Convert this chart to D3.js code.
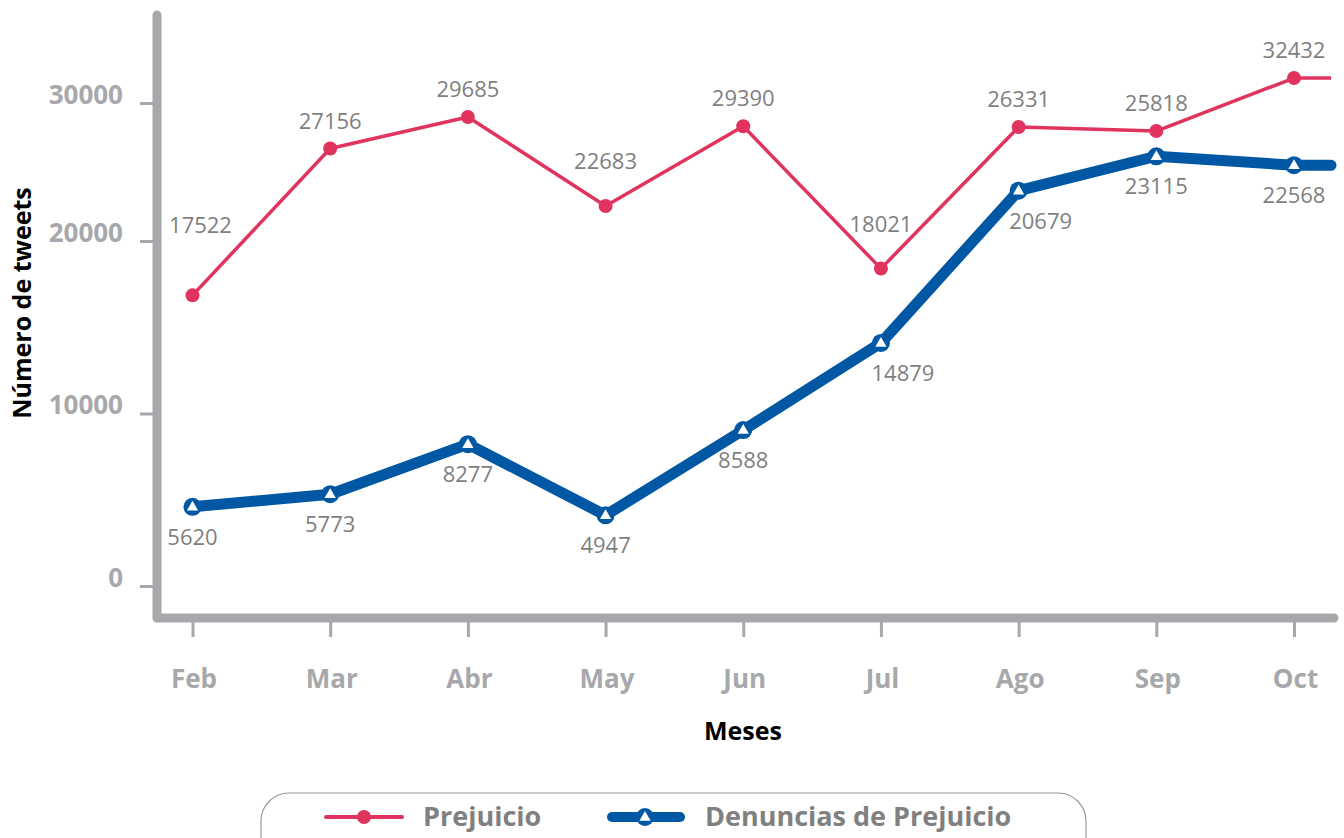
<!DOCTYPE html>
<html>
<head>
<meta charset="utf-8">
<script src="https://cdn.jsdelivr.net/npm/d3@7"></script>
<style>
    html, body { margin: 0; padding: 0; background: #fff; }
    #chart { width: 1344px; height: 838px; }
    text { font-family: 'Open Sans', 'Noto Sans', sans-serif; }
</style>
</head>
<body>
<div id="chart"></div>
<script>
// Data
const months = ['Feb', 'Mar', 'Abr', 'May', 'Jun', 'Jul', 'Ago', 'Sep', 'Oct'];
// values as plotted in the picture
const prejuicio = [16850, 26700, 28990, 22540, 28310, 18400, 28260, 27970, 31810];
const denuncias = [4590, 5320, 8220, 4100, 9040, 14090, 23650, 26140, 25490];
// numbers printed next to the points
const prejuicioLabels = ['17522', '27156', '29685', '22683', '29390', '18021', '26331', '25818', '32432'];
const denunciasLabels = ['5620', '5773', '8277', '4947', '8588', '14879', '20679', '23115', '22568'];
const yTicks = [0, 10000, 20000, 30000];
const seriesNames = ['Prejuicio', 'Denuncias de Prejuicio'];

document.addEventListener('DOMContentLoaded', function() {
    const width = 1344;
    const height = 838;
    const red = '#e0345e';
    const blue = '#0058a4';
    const axisGray = '#a7a8ab';
    const labelGray = '#7f7f7f';

    const axisX = 157;      // vertical axis line
    const axisY = 618;      // horizontal axis line
    const axisTop = 15;
    const axisRight = 1334;

    const svg = d3.select('#chart')
        .append('svg')
        .attr('width', width)
        .attr('height', height);

    svg.append('rect')
        .attr('width', width)
        .attr('height', height)
        .attr('fill', '#fff');

    // Scales (the picture's y ticks are not evenly spaced, so the scale is piecewise)
    const x = d3.scalePoint()
        .domain(months)
        .range([192.5, 1294]);

    const y0 = 586, step = 172.5, topStep = 138;
    const y = d3.scaleLinear()
        .domain(yTicks)
        .range([y0, y0 - step, y0 - 2 * step, y0 - 2 * step - topStep]);

    // Y axis ticks + labels
    const yAxis = svg.append('g')
        .attr('class', 'axis y-axis')
        .attr('transform', `translate(${axisX}, 0)`)
        .call(d3.axisLeft(y)
            .tickValues(yTicks)
            .tickSize(17)
            .tickPadding(17)
            .tickFormat(d => d));
    yAxis.select('.domain').remove();
    yAxis.selectAll('line')
        .attr('stroke', axisGray)
        .attr('stroke-width', 3);
    yAxis.selectAll('text')
        .attr('dy', '0')
        .style('font-size', '26px')
        .style('font-weight', '700')
        .style('fill', axisGray);

    // X axis ticks + labels
    const xAxis = svg.append('g')
        .attr('class', 'axis x-axis')
        .attr('transform', `translate(0, ${axisY})`)
        .call(d3.axisBottom(x).tickSize(19));
    xAxis.select('.domain').remove();
    xAxis.selectAll('line')
        .attr('stroke', axisGray)
        .attr('stroke-width', 3);
    xAxis.selectAll('text')
        .attr('y', 70)
        .attr('dy', 0)
        .attr('dx', 1)
        .style('font-size', '26px')
        .style('font-weight', '700')
        .style('fill', axisGray);

    // Thick L-shaped axis frame
    svg.append('path')
        .attr('d', `M${axisX},${axisTop}V${axisY}H${axisRight}`)
        .attr('fill', 'none')
        .attr('stroke', axisGray)
        .attr('stroke-width', 9)
        .attr('stroke-linecap', 'round')
        .attr('stroke-linejoin', 'round');

    // Axis titles
    svg.append('text')
        .attr('transform', 'translate(31, 303) rotate(-90)')
        .attr('text-anchor', 'middle')
        .style('font-size', '25px')
        .style('font-weight', '700')
        .style('fill', '#000')
        .text('Número de tweets');

    svg.append('text')
        .attr('x', 743)
        .attr('y', 740)
        .attr('text-anchor', 'middle')
        .style('font-size', '25px')
        .style('font-weight', '700')
        .style('fill', '#000')
        .text('Meses');

    // Lines run on flat to the end of the x axis after the last month
    function linePoints(values) {
        const pts = values.map((v, i) => [x(months[i]), y(v)]);
        pts.push([axisRight - 3, y(values[values.length - 1])]);
        return pts;
    }
    const line = d3.line();

    svg.append('path')
        .attr('d', line(linePoints(denuncias)))
        .attr('fill', 'none')
        .attr('stroke', blue)
        .attr('stroke-width', 11)
        .attr('stroke-linejoin', 'round')
        .attr('stroke-linecap', 'round');

    svg.append('path')
        .attr('d', line(linePoints(prejuicio)))
        .attr('fill', 'none')
        .attr('stroke', red)
        .attr('stroke-width', 3.5)
        .attr('stroke-linejoin', 'round');

    // Markers
    svg.selectAll('.dot')
        .data(prejuicio)
        .enter()
        .append('circle')
        .attr('class', 'dot')
        .attr('cx', (d, i) => x(months[i]))
        .attr('cy', d => y(d))
        .attr('r', 7)
        .attr('fill', red);

    const tri = d3.symbol().type(d3.symbolTriangle).size(55);

    function blueMarker(g) {
        g.append('circle')
            .attr('r', 9)
            .attr('fill', blue);
        g.append('path')
            .attr('d', tri())
            .attr('transform', 'translate(0, 0.5)')
            .attr('fill', '#fff');
    }

    svg.selectAll('.tri')
        .data(denuncias)
        .enter()
        .append('g')
        .attr('class', 'tri')
        .attr('transform', (d, i) => `translate(${x(months[i])}, ${y(d)})`)
        .each(function() { blueMarker(d3.select(this)); });

    // Value labels; above a deep dip in the red line they sit higher to clear it
    function isDip(values, i) {
        const prev = i > 0 ? values[i - 1] : Infinity;
        const next = i < values.length - 1 ? values[i + 1] : Infinity;
        return prev - values[i] > 1000 && next - values[i] > 1000;
    }

    svg.selectAll('.label-p')
        .data(prejuicio)
        .enter()
        .append('text')
        .attr('class', 'label-p')
        .attr('x', (d, i) => x(months[i]) + (i === 0 ? 8 : 0))
        .attr('y', (d, i) => y(d) - (i === 0 ? 62 : isDip(prejuicio, i) ? 37 : 20))
        .attr('text-anchor', 'middle')
        .style('font-size', '22px')
        .style('fill', labelGray)
        .text((d, i) => prejuicioLabels[i]);

    // below the blue line; after a steep climb the label slides right of the point
    function steepRise(values, i) {
        return i > 0 && values[i] - values[i - 1] > 5000;
    }

    svg.selectAll('.label-d')
        .data(denuncias)
        .enter()
        .append('text')
        .attr('class', 'label-d')
        .attr('x', (d, i) => x(months[i]) + (steepRise(denuncias, i) ? 22 : 0))
        .attr('y', d => y(d) + 38)
        .attr('text-anchor', 'middle')
        .style('font-size', '22px')
        .style('fill', labelGray)
        .text((d, i) => denunciasLabels[i]);

    // Legend
    const legend = svg.append('g').attr('class', 'legend');
    legend.append('rect')
        .attr('x', 261)
        .attr('y', 793)
        .attr('width', 825)
        .attr('height', 80)
        .attr('rx', 28)
        .attr('fill', '#fff')
        .attr('stroke', '#9a9a9a')
        .attr('stroke-width', 1.2);

    const legendX = [326, 608];
    seriesNames.forEach((name, i) => {
        const g = legend.append('g')
            .attr('transform', `translate(${legendX[i]}, 817)`);
        if (i === 0) {
            g.append('line')
                .attr('x1', 0).attr('x2', 76)
                .attr('stroke', red)
                .attr('stroke-width', 4)
                .attr('stroke-linecap', 'round');
            g.append('circle')
                .attr('cx', 38)
                .attr('r', 7)
                .attr('fill', red);
        } else {
            g.append('line')
                .attr('x1', 4).attr('x2', 72)
                .attr('stroke', blue)
                .attr('stroke-width', 10)
                .attr('stroke-linecap', 'round');
            const m = g.append('g').attr('transform', 'translate(37, 0)');
            blueMarker(m);
        }
        g.append('text')
            .attr('x', 97)
            .attr('y', 9)
            .style('font-size', '27px')
            .style('font-weight', '700')
            .style('fill', '#808080')
            .text(name);
    });
});
</script>
</body>
</html>
